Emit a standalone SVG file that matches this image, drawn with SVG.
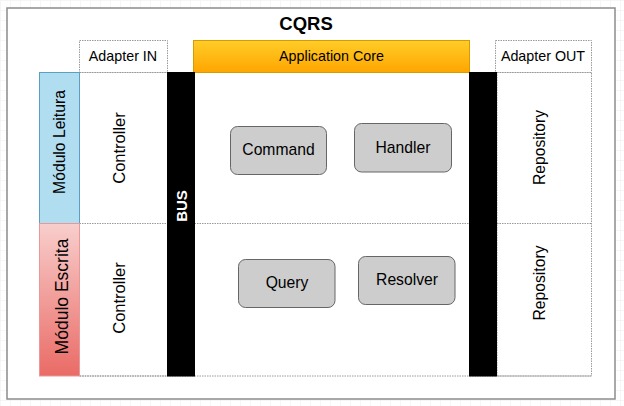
<svg xmlns="http://www.w3.org/2000/svg" width="624" height="406" viewBox="0 0 624 406">
<defs>
<pattern id="grid" width="10" height="10" patternUnits="userSpaceOnUse">
<path d="M10 0 L0 0 0 10" fill="none" stroke="#eeeeee" stroke-width="1"/>
</pattern>
<linearGradient id="gOrange" x1="0" y1="0" x2="0" y2="1">
<stop offset="0" stop-color="#ffcd28"/><stop offset="1" stop-color="#ffa500"/>
</linearGradient>
<linearGradient id="gRed" x1="0" y1="0" x2="0" y2="1">
<stop offset="0" stop-color="#f8cecc"/><stop offset="1" stop-color="#ea6b66"/>
</linearGradient>
</defs>
<style>
text{font-family:"Liberation Sans",Arial,sans-serif;fill:#000}
.dot{fill:#fff;stroke:#9a9a9a;stroke-width:1;stroke-dasharray:1.5 1}
.dline{fill:none;stroke:#9a9a9a;stroke-width:1;stroke-dasharray:1.5 1}
.hdr{font-size:14.3px;text-anchor:middle}
.box{fill:#cdcdcd;stroke:#666;stroke-width:1}
.bt{font-size:15.7px;text-anchor:middle}
.vt{text-anchor:middle}
.bar{fill:#000}
</style>
<rect width="624" height="406" fill="#ffffff"/>
<rect width="624" height="406" fill="url(#grid)"/>
<rect id="frame" x="7" y="8" width="608" height="391" fill="#ffffff" stroke="#8c8c8c" stroke-width="1.5"/>
<text x="306" y="30" font-size="18.5" font-weight="bold" text-anchor="middle">CQRS</text>

<g id="adapter-in">
<rect class="dot" x="79.5" y="40.5" width="88" height="32"/>
<text class="hdr" x="123" y="61">Adapter IN</text>
</g>
<g id="application-core">
<rect x="193.5" y="40.5" width="276" height="32" fill="url(#gOrange)" stroke="#d79b00" stroke-width="1"/>
<text class="hdr" x="331.5" y="61">Application Core</text>
</g>
<g id="adapter-out">
<rect class="dot" x="495.5" y="40.5" width="96" height="32"/>
<text class="hdr" x="543" y="61">Adapter OUT</text>
</g>

<g id="controller-column">
<rect class="dot" x="79.5" y="72.5" width="88" height="303.5"/>
</g>
<g id="repository-column">
<rect class="dot" x="497" y="72.5" width="94.5" height="303.5"/>
</g>
<g id="lines">
<line class="dline" x1="79.5" y1="223.5" x2="591.5" y2="223.5"/>
<line class="dline" x1="79.5" y1="376" x2="591.5" y2="376"/>
</g>

<g id="modulo-leitura">
<rect x="39.5" y="72.5" width="40" height="151" fill="#b1ddf0" stroke="#5d9fc4" stroke-width="1"/>
<text class="vt" font-size="15.7" transform="translate(65,142) rotate(-90)">Módulo Leitura</text>
</g>
<g id="modulo-escrita">
<rect x="39.5" y="223.5" width="40" height="152.5" fill="url(#gRed)" stroke="#e89896" stroke-width="1"/>
<text class="vt" font-size="17.5" transform="translate(68,296.5) rotate(-90)">Módulo Escrita</text>
</g>

<g id="controller-leitura">
<text class="vt" font-size="16.5" transform="translate(125,148) rotate(-90)">Controller</text>
</g>
<g id="controller-escrita">
<text class="vt" font-size="16.5" transform="translate(125,298) rotate(-90)">Controller</text>
</g>
<g id="repository-leitura">
<text class="vt" font-size="15.7" transform="translate(545,147.5) rotate(-90)">Repository</text>
</g>
<g id="repository-escrita">
<text class="vt" font-size="15.7" transform="translate(545,283) rotate(-90)">Repository</text>
</g>

<g id="bus">
<rect class="bar" x="167" y="72" width="28" height="304.5"/>
<text class="vt" font-size="15" font-weight="bold" style="fill:#fff" transform="translate(187,206) rotate(-90)">BUS</text>
</g>
<g id="bus-out">
<rect class="bar" x="469" y="72" width="28" height="304.5"/>
</g>

<g id="command">
<rect class="box" x="230.5" y="126.5" width="96" height="48" rx="7"/>
<text class="bt" x="278.5" y="154.5">Command</text>
</g>
<g id="handler">
<rect class="box" x="354.5" y="123.5" width="97" height="48.5" rx="7"/>
<text class="bt" x="403" y="152.5">Handler</text>
</g>
<g id="query">
<rect class="box" x="238.5" y="259.5" width="96.5" height="48" rx="7"/>
<text class="bt" x="287" y="287.5">Query</text>
</g>
<g id="resolver">
<rect class="box" x="358.5" y="256.5" width="96.5" height="48" rx="7"/>
<text class="bt" x="407" y="284.5">Resolver</text>
</g>
<g id="connectors"></g>
</svg>
